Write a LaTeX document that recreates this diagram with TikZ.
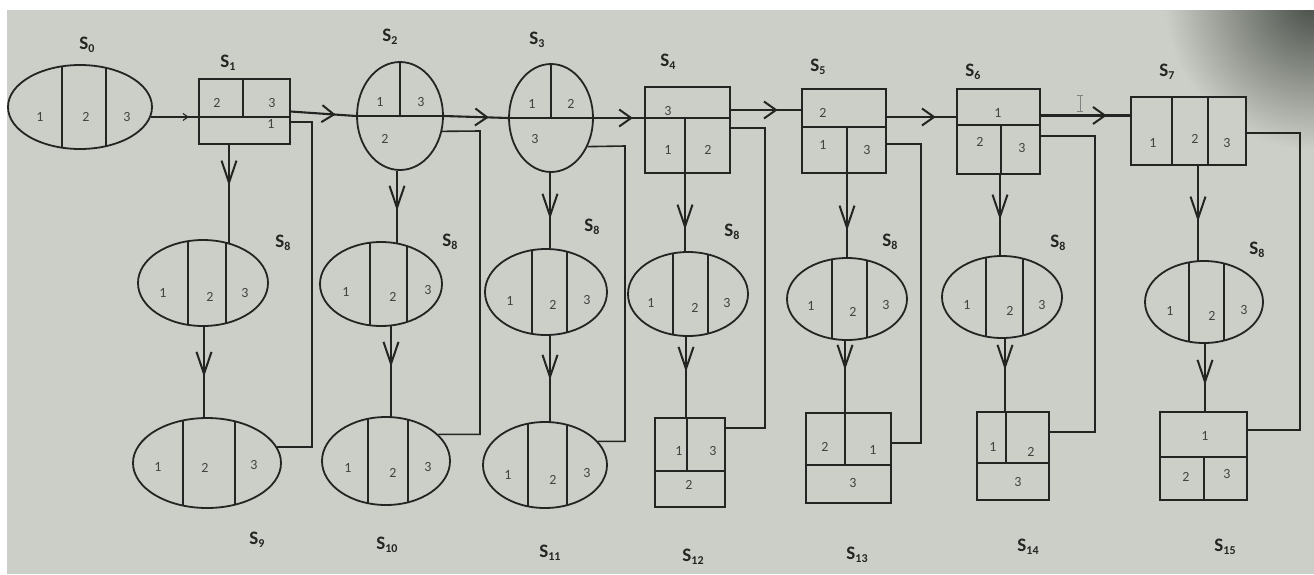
\documentclass[tikz,border=0pt]{standalone}
\usepackage{fontspec}
\setmainfont{Carlito}
\usetikzlibrary{shapes.geometric,arrows.meta,decorations.markings,calc}
\definecolor{paper}{RGB}{204,207,199}
\definecolor{shadowc}{RGB}{70,76,70}
\definecolor{ink}{RGB}{35,37,35}
\definecolor{digitc}{RGB}{65,67,65}
\pgfdeclarelayer{bg}
\pgfsetlayers{bg,main}
\newcommand{\slab}[4]{\node[slabel] (#1) at (#2,#3) {S\raisebox{-0.35ex}{\fontsize{12}{12}\selectfont #4}};}
\newcommand{\dig}[4]{\node[digit] (#1) at (#2,#3) {#4};}
\newcommand{\ovalthree}[7]{%
  \node[oval, minimum width={2*#4pt}, minimum height={2*#5pt}] (#1) at (#2,#3) {};
  \begin{scope}\clip (#2,#3) ellipse [x radius=#4, y radius=#5];
  \draw[div] (#6,#3-#5) -- (#6,#3+#5); \draw[div] (#7,#3-#5) -- (#7,#3+#5);\end{scope}}
\tikzset{
 oval/.style={ellipse, draw=ink, line width=1.8pt, fill=paper, inner sep=0pt},
 box/.style={rectangle, draw=ink, line width=1.4pt, fill=paper, inner sep=0pt},
 div/.style={draw=ink, line width=1.7pt},
 bdiv/.style={draw=ink, line width=1.4pt},
 digit/.style={font=\fontsize{14}{14}\selectfont, text=digitc, inner sep=0pt},
 slabel/.style={font=\fontsize{19}{19}\selectfont\bfseries, text=ink, inner sep=0pt},
 conn/.style={draw=ink, line width=1.6pt},
 mainline/.style={draw=ink, line width=2.1pt},
 vm/.style={postaction={decorate}, decoration={markings, mark=at position #1 with {\arrow[line width=2pt]{Straight Barb[length=22pt,width=15pt]}}}},
 hm/.style={postaction={decorate}, decoration={markings, mark=at position #1 with {\arrow[line width=2pt]{Straight Barb[length=12pt,width=17pt]}}}},
 sm/.style={postaction={decorate}, decoration={markings, mark=at position #1 with {\arrow[line width=1.1pt]{Straight Barb[length=5pt,width=7pt]}}}},
}
\begin{document}
\begin{tikzpicture}[x=1pt,y=-1pt]
\useasboundingbox (0,0) rectangle (1314,574);
\begin{pgfonlayer}{bg}
\fill[white] (0,0) rectangle (1314,574);
\fill[paper] (7,10) rectangle (1314,574);
\begin{scope}
\clip (7,10) rectangle (1314,574);
\shade[inner color=shadowc, outer color=paper] (1314,0) circle (150);
\end{scope}
\end{pgfonlayer}

% ---------- top row ----------
\ovalthree{s0}{80}{107}{72}{42}{62}{106}
\dig{s0a}{40}{117}{1}\dig{s0b}{86}{117}{2}\dig{s0c}{127}{117}{3}
\slab{l0}{87}{45}{0}

\node[box, minimum width=91pt, minimum height=65pt] (s1) at (244.5,111.5) {};
\draw[bdiv] (199,117) -- (290,117); \draw[bdiv] (243,79) -- (243,117);
\dig{s1a}{217}{103}{2}\dig{s1b}{272}{103}{3}\dig{s1c}{271}{124}{1}
\slab{l1}{228}{63}{1}

\node[oval, minimum width=86pt, minimum height=108pt] (s2) at (400,116) {};
\draw[div] (s2.north) -- (s2.center); \draw[div] (s2.west) -- (s2.east);
\dig{s2a}{380}{102}{1}\dig{s2b}{421}{102}{3}\dig{s2c}{385}{139}{2}
\slab{l2}{390}{37}{2}

\node[oval, minimum width=84pt, minimum height=108pt] (s3) at (551,118) {};
\draw[div] (s3.north) -- (s3.center); \draw[div] (s3.west) -- (s3.east);
\dig{s3a}{532}{104}{1}\dig{s3b}{571}{104}{2}\dig{s3c}{535}{139}{3}
\slab{l3}{537}{40}{3}

\node[box, minimum width=85pt, minimum height=86pt] (s4) at (687.5,130) {};
\draw[bdiv] (645,118) -- (730,118); \draw[bdiv] (685,118) -- (685,173);
\dig{s4a}{668}{111}{3}\dig{s4b}{668}{150}{1}\dig{s4c}{708}{150}{2}
\slab{l4}{668}{62}{4}

\node[box, minimum width=84pt, minimum height=84pt] (s5) at (844,131) {};
\draw[bdiv] (802,127) -- (886,127); \draw[bdiv] (847,127) -- (847,173);
\dig{s5a}{823}{113}{2}\dig{s5b}{823}{145}{1}\dig{s5c}{867}{150}{3}
\slab{l5}{818}{67}{5}

\node[box, minimum width=83pt, minimum height=85pt] (s6) at (998.5,131.5) {};
\draw[bdiv] (957,125) -- (1040,125); \draw[bdiv] (1001,125) -- (1001,174);
\dig{s6a}{998}{113}{1}\dig{s6b}{980}{142}{2}\dig{s6c}{1022}{148}{3}
\slab{l6}{973}{72}{6}

\node[box, minimum width=115pt, minimum height=68pt] (s7) at (1188.5,131) {};
\draw[bdiv] (1172,97) -- (1172,165); \draw[bdiv] (1208,97) -- (1208,165);
\dig{s7a}{1153}{143}{1}\dig{s7b}{1195}{139}{2}\dig{s7c}{1227}{143}{3}
\slab{l7}{1167}{72}{7}

% ---------- middle row (S8) ----------
\ovalthree{s8a}{203}{283}{65}{43}{188}{226}
\dig{s8a1}{163}{293}{1}\dig{s8a2}{210}{297}{2}\dig{s8a3}{245}{293}{3}
\slab{l8a}{283}{243}{8}
\ovalthree{s8b}{381}{284}{61}{42}{370}{407}
\dig{s8b1}{346}{292}{1}\dig{s8b2}{393}{297}{2}\dig{s8b3}{428}{290}{3}
\slab{l8b}{450}{242}{8}
\ovalthree{s8c}{546}{292}{61}{43}{532}{567}
\dig{s8c1}{510}{301}{1}\dig{s8c2}{553}{305}{2}\dig{s8c3}{587}{300}{3}
\slab{l8c}{592}{227}{8}
\ovalthree{s8d}{688}{294}{60}{42}{673}{708}
\dig{s8d1}{651}{303}{1}\dig{s8d2}{695}{308}{2}\dig{s8d3}{727}{303}{3}
\slab{l8d}{732}{232}{8}
\ovalthree{s8e}{847}{299}{60}{41}{832}{867}
\dig{s8e1}{811}{306}{1}\dig{s8e2}{853}{312}{2}\dig{s8e3}{886}{305}{3}
\slab{l8e}{890}{242}{8}
\ovalthree{s8f}{1002}{297}{60}{41}{986}{1023}
\dig{s8f1}{967}{305}{1}\dig{s8f2}{1010}{311}{2}\dig{s8f3}{1042}{305}{3}
\slab{l8f}{1058}{243}{8}
\ovalthree{s8g}{1204}{302}{59}{41}{1189}{1224}
\dig{s8g1}{1170}{311}{1}\dig{s8g2}{1212}{316}{2}\dig{s8g3}{1244}{310}{3}
\slab{l8g}{1257}{250}{8}

% ---------- bottom row ----------
\ovalthree{s9}{207}{463}{74}{45}{183}{235}
\dig{s9a}{158}{467}{1}\dig{s9b}{205}{468}{2}\dig{s9c}{254}{465}{3}
\slab{l9}{257}{540}{9}
\ovalthree{s10}{386}{461}{64}{44}{368}{408}
\dig{s10a}{348}{468}{1}\dig{s10b}{393}{473}{2}\dig{s10c}{428}{467}{3}
\slab{l10}{387}{545}{10}
\ovalthree{s11}{545}{465}{62}{43}{528}{567}
\dig{s11a}{508}{475}{1}\dig{s11b}{553}{480}{2}\dig{s11c}{587}{473}{3}
\slab{l11}{550}{553}{11}

\node[box, minimum width=70pt, minimum height=89pt] (s12) at (690,462.5) {};
\draw[bdiv] (655,471) -- (725,471); \draw[bdiv] (687,418) -- (687,471);
\dig{s12a}{679}{451}{1}\dig{s12b}{713}{451}{3}\dig{s12c}{689}{485}{2}
\slab{l12}{693}{557}{12}

\node[box, minimum width=85pt, minimum height=90pt] (s13) at (848.5,458) {};
\draw[bdiv] (806,465) -- (891,465); \draw[bdiv] (845,413) -- (845,465);
\dig{s13a}{825}{447}{2}\dig{s13b}{873}{450}{1}\dig{s13c}{853}{483}{3}
\slab{l13}{857}{555}{13}

\node[box, minimum width=72pt, minimum height=88pt] (s14) at (1013,456) {};
\draw[bdiv] (977,463) -- (1049,463); \draw[bdiv] (1006,412) -- (1006,463);
\dig{s14a}{993}{447}{1}\dig{s14b}{1031}{452}{2}\dig{s14c}{1018}{482}{3}
\slab{l14}{1028}{547}{14}

\node[box, minimum width=87pt, minimum height=88pt] (s15) at (1203.5,456) {};
\draw[bdiv] (1160,457) -- (1247,457); \draw[bdiv] (1204,457) -- (1204,500);
\dig{s15a}{1205}{436}{1}\dig{s15b}{1186}{477}{2}\dig{s15c}{1227}{474}{3}
\slab{l15}{1225}{547}{15}

% cursor mark
\draw[gray, line width=0.9pt] (1080,95) -- (1080,111) (1077,95) -- (1083,95) (1077,111) -- (1083,111);

% ---------- connectors ----------
\coordinate (l1c) at (312,122);
\coordinate (l2c) at (480,131);
\coordinate (l3c) at (625,146);
\coordinate (l4c) at (765,128);
\coordinate (l5c) at (921,144);
\coordinate (l6c) at (1095,136);
\coordinate (l7c) at (1300,133);
\begin{pgfonlayer}{bg}
% horizontal chain
\draw[conn, sm=38pt] (s0.-8) -- (s0.-8 -| s1.west);
\draw[mainline, hm=45pt] (s1.east) -- (s2.west);
\draw[mainline, hm=45pt] (s2.east) -- (s3.west);
\draw[mainline, hm=39pt] (s3.east) -- (s3.east -| s4.west);
\draw[mainline, hm=47pt] ([yshift=20pt]s4.east) -- ([yshift=20pt]s4.east -| s5.west);
\draw[mainline, hm=49pt] ([yshift=14pt]s5.east) -- ([yshift=14pt]s5.east -| s6.west);
\draw[mainline, hm=66pt] ([yshift=16pt]s6.east) -- ([yshift=16pt]s6.east -| s7.west);
% vertical
\draw[conn, vm=41pt] ([xshift=-15.5pt]s1.south) -- ([xshift=-15.5pt]s1.south |- s8a.center);
\draw[conn, vm=94pt] ([xshift=1pt]s8a.center) -- ([xshift=1pt]s8a.center |- s9.center);
\draw[conn, vm=40pt] ([xshift=-3pt]s2.south) -- ([xshift=-3pt]s2.south |- s8b.center);
\draw[conn, vm=83pt] ([xshift=10pt]s8b.center) -- ([xshift=10pt]s8b.center |- s10.center);
\draw[conn, vm=46pt] ([xshift=-1pt]s3.south) -- ([xshift=-1pt]s3.south |- s8c.center);
\draw[conn, vm=88pt] ([xshift=4pt]s8c.center) -- ([xshift=4pt]s8c.center |- s11.center);
\draw[conn, vm=56pt] ([xshift=-2.5pt]s4.south) -- ([xshift=-2.5pt]s4.south |- s8d.center);
\draw[conn, vm=78pt] ([xshift=-2pt]s8d.center) -- ([xshift=-2pt]s8d.center |- s12.north);
\draw[conn, vm=57pt] ([xshift=3pt]s5.south) -- ([xshift=3pt]s5.south |- s8e.center);
\draw[conn, vm=71pt] ([xshift=-2pt]s8e.center) -- ([xshift=-2pt]s8e.center |- s13.north);
\draw[conn, vm=45pt] ([xshift=1.5pt]s6.south) -- ([xshift=1.5pt]s6.south |- s8f.center);
\draw[conn, vm=73pt] ([xshift=3pt]s8f.center) -- ([xshift=3pt]s8f.center |- s14.north);
\draw[conn, vm=56pt] ([xshift=9.5pt]s7.south) -- ([xshift=9.5pt]s7.south |- s8g.center);
\draw[conn, vm=83pt] ([xshift=1pt]s8g.center) -- ([xshift=1pt]s8g.center |- s15.north);
% loops back
\draw[conn] (s9.13) -| (l1c) -- (l1c -| s1.east);
\draw[conn] (s10.27) -| (l2c) -- (s2.-20);
\draw[conn] (s11.24) -| (l3c) -- (s3.-38);
\draw[conn] ([yshift=34.5pt]s12.east) -| (l4c) -- (l4c -| s4.east);
\draw[conn] ([yshift=15pt]s13.east) -| (l5c) -- (l5c -| s5.east);
\draw[conn] ([yshift=24pt]s14.east) -| (l6c) -- (l6c -| s6.east);
\draw[conn] ([yshift=26pt]s15.east) -| (l7c) -- (l7c -| s7.east);
\end{pgfonlayer}
\end{tikzpicture}
\end{document}
